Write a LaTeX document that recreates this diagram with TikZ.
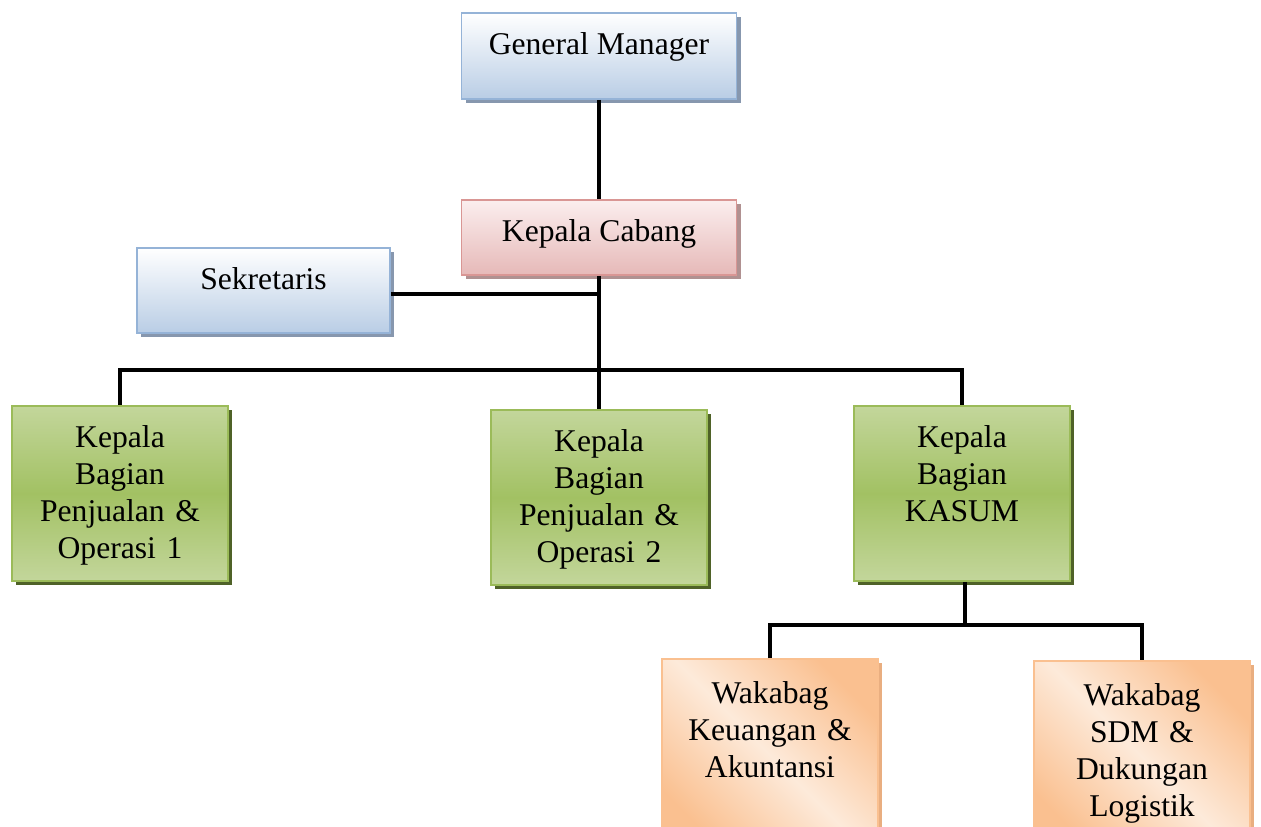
\documentclass[tikz,border=0pt]{standalone}
\usepackage{fontspec}
\setmainfont{Liberation Serif}
\usepackage{tikz}
\usetikzlibrary{positioning,shadows}
\definecolor{orgBlue}{HTML}{95B3D7}
\definecolor{orgBlueBg}{HTML}{B9CDE5}
\definecolor{orgBlueSh}{HTML}{8797AE}
\definecolor{orgRed}{HTML}{D99694}
\definecolor{orgRedBg}{HTML}{E6B9B8}
\definecolor{orgRedTop}{HTML}{FBEEEE}
\definecolor{orgRedSh}{HTML}{B09191}
\definecolor{orgGreen}{HTML}{9BBB59}
\definecolor{orgGreenBg}{HTML}{C3D69B}
\definecolor{orgGreenMid}{HTML}{A2C163}
\definecolor{orgGreenSh}{HTML}{4F6228}
\definecolor{orgOrange}{HTML}{FAC090}
\definecolor{orgOrangeBg}{HTML}{FDEADA}
\definecolor{orgOrangeSh}{HTML}{E9AE80}
\tikzset{
  kotak/.style={line width=1.1pt, anchor=north, align=center, font=\fontsize{18}{21}\selectfont, inner xsep=2pt, inner ysep=4mm, text height=4.4mm},
  bayang/.style={drop shadow={shadow xshift=0.8mm, shadow yshift=-0.8mm, opacity=1, fill=#1}},
  biru/.style={kotak, draw=orgBlue, top color=white, bottom color=orgBlueBg, bayang=orgBlueSh},
  merah/.style={kotak, draw=orgRed, top color=orgRedTop, bottom color=orgRedBg, bayang=orgRedSh},
  hijau/.style={kotak, draw=orgGreen, top color=orgGreenBg, bottom color=orgGreenBg, middle color=orgGreenMid, bayang=orgGreenSh, text width=4.1cm, minimum width=4.32cm, text depth=22.6mm},
  oranye/.style={kotak, draw=orgOrange, top color=orgOrange, bottom color=orgOrange, middle color=orgOrangeBg, shading angle=-45, bayang=orgOrangeSh, text width=4.1cm, minimum width=4.32cm, text depth=25mm, inner ysep=4.5mm},
  garis/.style={line width=2.3pt, black},
}
\begin{document}
\begin{tikzpicture}
\useasboundingbox (0,0) rectangle (25.22,-16.54);

\node[biru, minimum width=5.5cm, text depth=4.8mm] (gm) at (11.98,-0.24) {General Manager};
\node[merah, minimum width=5.5cm, text depth=2.6mm, below=1.98cm of gm] (kc) {Kepala Cabang};
\node[biru, minimum width=5.06cm, text depth=4.6mm] (sek) at (5.27,-4.94) {Sekretaris};

\node[hijau] (kb1) at (2.40,-8.10) {Kepala\\Bagian\\Penjualan \&\\Operasi 1};
\node[hijau] (kb2) at (11.98,-8.18) {Kepala\\Bagian\\Penjualan \&\\Operasi 2};
\node[hijau] (kb3) at (19.24,-8.10) {Kepala\\Bagian\\KASUM};

\node[oranye] (w1) at (15.40,-13.16) {Wakabag\\Keuangan \&\\Akuntansi};
\node[oranye] (w2) at (22.84,-13.20) {Wakabag\\SDM \&\\Dukungan\\Logistik};

\coordinate (cabang) at (11.98,-7.40);
\coordinate (sekret) at (11.98,-5.88);
\coordinate (bagi) at (19.30,-12.50);

\draw[garis] (gm.south) -- (kc.north);
\draw[garis] (kc.south) -- (cabang) -- (kb2.north);
\draw[garis] (sek.east |- sekret) -- (sekret);
\draw[garis] (kb1.north) |- (cabang) -| (kb3.north);
\draw[garis] (kb3.south -| bagi) -- (bagi);
\draw[garis] (w1.north) |- (bagi) -| (w2.north);
\end{tikzpicture}
\end{document}
